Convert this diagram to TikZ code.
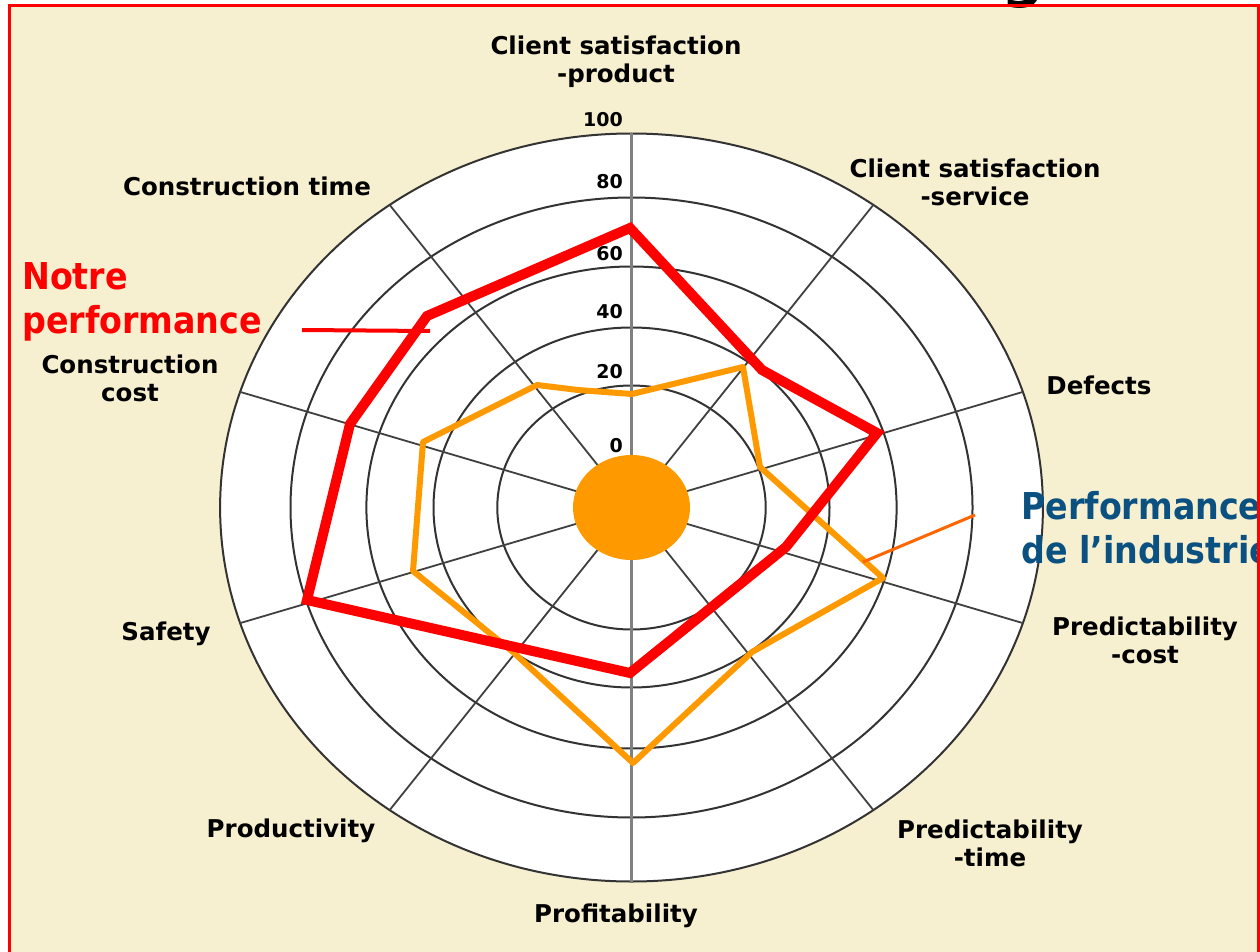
\documentclass[tikz,border=0pt]{standalone}
\usepackage{fontspec}
\setmainfont{DejaVu Sans}
\newfontfamily\notefont{DejaVu Sans Condensed}
\definecolor{paper}{RGB}{246,239,208}
\definecolor{ourred}{RGB}{255,0,0}
\definecolor{indorange}{RGB}{255,153,0}
\definecolor{pointorange}{RGB}{255,102,0}
\definecolor{indblue}{RGB}{10,80,128}
\begin{document}
\begin{tikzpicture}[x=1pt,y=-1pt]
        \tikzstyle{axislabel}=[font=\fontsize{24.5}{28}\selectfont\bfseries,align=center,inner sep=0pt]
        \tikzstyle{ringlabel}=[font=\fontsize{19}{19}\selectfont\bfseries,anchor=east,inner sep=0pt]
        \tikzstyle{ring}=[draw=black!80,line width=2pt]
        \tikzstyle{spoke}=[draw=black!75,line width=1.8pt]
        \tikzstyle{callout}=[font=\notefont\fontsize{37}{44}\selectfont\bfseries,align=left,anchor=north west,inner sep=0pt]
        \useasboundingbox (0,0) rectangle (1260,952);
        \fill[paper] (9,6) rectangle (1258,960);
        % title, cut off by the slide
        \node[font=\fontsize{60}{60}\selectfont\bfseries,anchor=base] (titleg) at (1023,-4) {g};
        % polar grid
        \coordinate (c) at (631.5,507.5);
        \fill[white] (c) ellipse [x radius=411.4,y radius=374];
        \foreach \r in {122,180,241,310,374}
          \draw[ring] (c) ellipse [x radius=1.1*\r,y radius=\r];
        \foreach \a in {54,18,-18,-54,-126,-162,162,126}
          \draw[spoke] (c) -- ++({1.1*374*cos(\a)},{-374*sin(\a)});
        \draw[gray,line width=3pt] (631.5,133.5) -- (631.5,881.5);
        \fill[indorange] (c) ellipse [x radius=58.5,y radius=52.5];
        % ring values
        \node[ringlabel] (v100) at (623,119.5) {100};
        \node[ringlabel] (v80) at (623,181.5) {80};
        \node[ringlabel] (v60) at (623,253.5) {60};
        \node[ringlabel] (v40) at (623,311.5) {40};
        \node[ringlabel] (v20) at (623,371.5) {20};
        \node[ringlabel] (v0) at (623,445.5) {0};
        % axis names
        \node[axislabel] (product) at (616,62) {Client satisfaction\\-product};
        \node[axislabel] (service) at (975,182) {Client satisfaction\\-service};
        \node[axislabel] (defects) at (1099,385) {Defects};
        \node[axislabel] (predcost) at (1145,640) {Predictability\\-cost};
        \node[axislabel] (predtime) at (990,843) {Predictability\\-time};
        \node[axislabel] (profit) at (616,916) {Profitability};
        \node[axislabel] (productivity) at (291,831) {Productivity};
        \node[axislabel] (safety) at (166,634) {Safety};
        \node[axislabel] (concost) at (130,378) {Construction\\cost};
        \node[axislabel] (contime) at (247,186) {Construction time};
        % industry
        \draw[indorange,line width=6pt,line join=round] (632,394) -- (743,367) -- (760,467) -- (883,578)
          -- (752,652) -- (633,763) -- (513,652) -- (413,571) -- (423,442) -- (537,385) -- (578,390) -- cycle;
        % ours
        \draw[ourred,line width=10pt,line join=miter] (630,228) -- (762,370) -- (877,433) -- (786,547)
          -- (630,673) -- (307,600) -- (350,424) -- (427,316) -- cycle;
        % callouts
        \node[callout,text=ourred] (notre) at (22,262) {Notre\\performance};
        \coordinate (notretail) at (302,330);
        \coordinate (notretip) at (430,331);
        \draw[ourred,line width=4pt] (notretail) -- (notretip);
        \node[callout,text=indblue] (industrie) at (1021,491) {Performance\\de l’industrie};
        \coordinate (indtail) at (975,515);
        \coordinate (indtip) at (863,562);
        \draw[pointorange,line width=3pt] (indtail) -- (indtip);
        \draw[ourred,line width=3pt] (9,6) rectangle (1258.5,960);
\end{tikzpicture}
\end{document}
